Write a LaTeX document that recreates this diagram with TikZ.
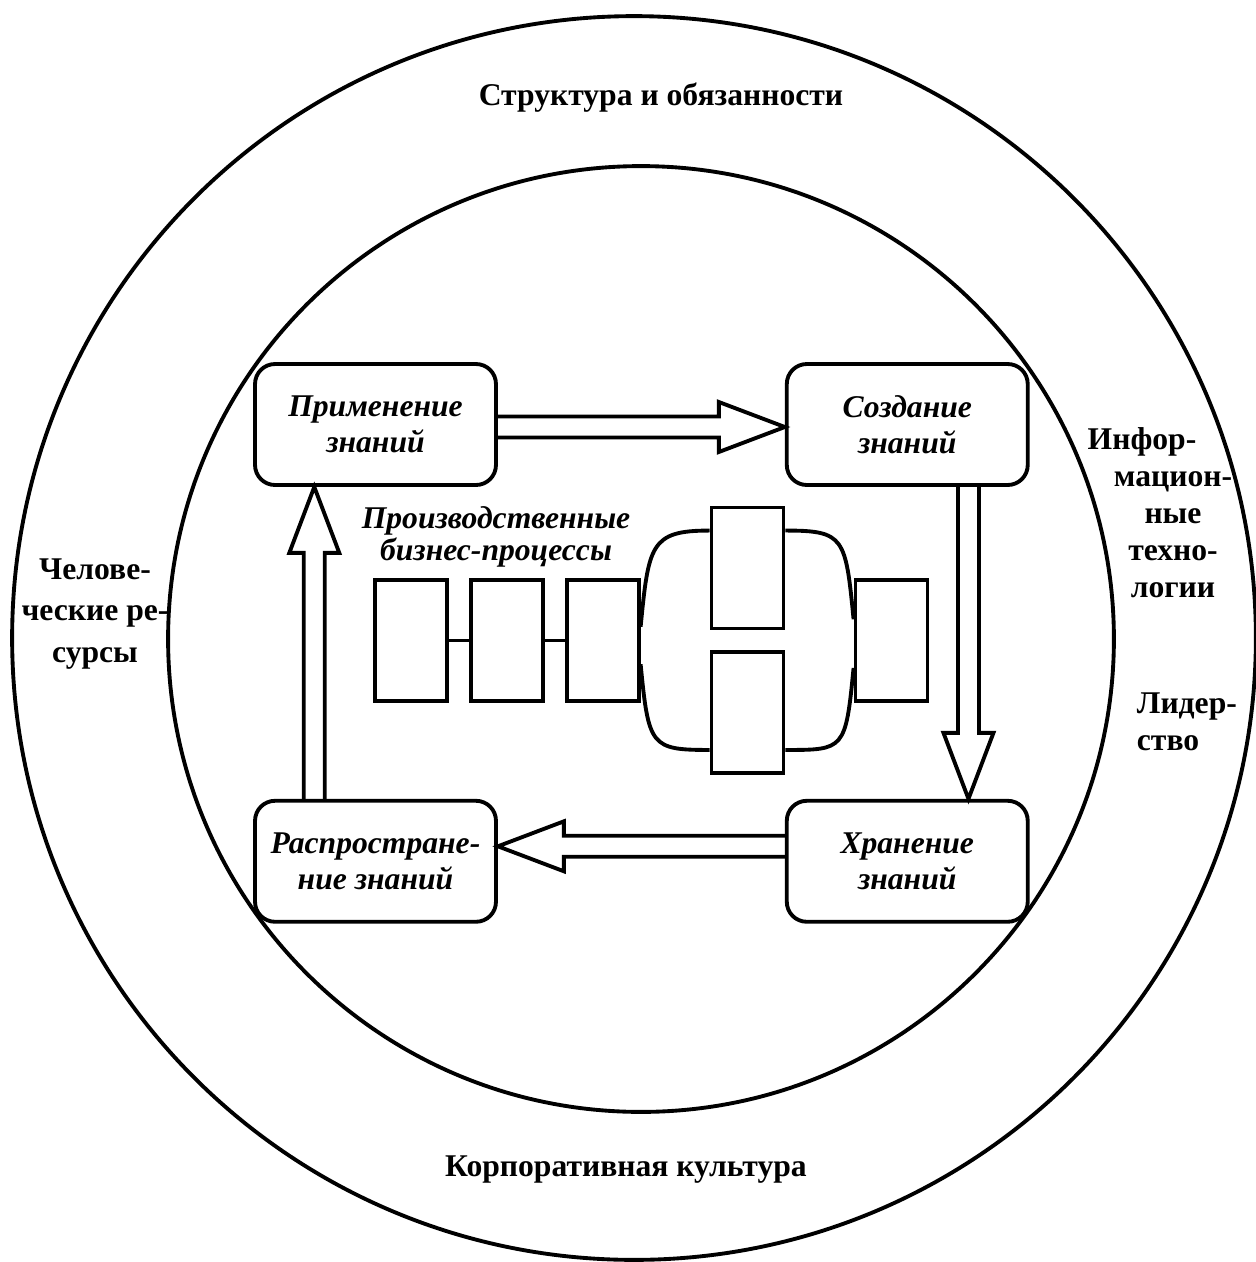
\documentclass[tikz,border=0pt]{standalone}
\usepackage{fontspec}
\setmainfont{Liberation Serif}
\usepackage{tikz}
\usetikzlibrary{calc,positioning}

\begin{document}
\begin{tikzpicture}[x=0.02cm,y=-0.02cm,line width=2.2pt]

\tikzset{kbox/.style={draw, rounded corners=0.4cm, minimum width=4.82cm, minimum height=2.42cm, align=center, inner sep=0pt, font=\bfseries\itshape\fontsize{18}{20.5}\selectfont},
pbox/.style={draw, minimum width=1.44cm, minimum height=2.42cm, inner sep=0pt},
%labels in the rings
lbl/.style={align=center, inner sep=0pt, font=\bfseries\fontsize{18}{21}\selectfont}}

\useasboundingbox (0,0) rectangle (1256,1262);

\draw (634,638) circle (12.44cm);
\draw (641,639) circle (9.46cm);

\node[lbl] (struct) at (661,98) {Структура и обязанности};
\node[lbl] (korp) at (626,1170) {Корпоративная культура};
\node[lbl, font=\bfseries\fontsize{18}{23.5}\selectfont] (chelov) at (95,614) {Челове-\\ческие ре-\\сурсы};
\node[lbl] (inform) at (1142,442) {Инфор-};
\node[lbl] (tehn) at (1173,535) {мацион-\\ные\\техно-\\логии};
\node[lbl, align=left, anchor=west] (lider) at (1135,722) {Лидер-\\ство};

%the four stages
\node[kbox] (primen) at (375.5,424.5) {Применение\\знаний};
\node[kbox, right=5.74cm of primen] (sozdan) {Создание\\знаний};
\node[kbox, below=6.24cm of sozdan] (hranen) {Хранение\\знаний};
\node[kbox, below=6.24cm of primen] (raspr) {Распростране-\\ние знаний};

\coordinate (a1s) at ($(primen.north east)!0.52!(primen.south east)$);
\coordinate (a1t) at ($(sozdan.north west)!0.52!(sozdan.south west)$);
\coordinate (a2s) at ($(sozdan.south west)!0.75!(sozdan.south east)$);
\coordinate (a2t) at ($(hranen.north west)!0.75!(hranen.north east)$);
\coordinate (a3s) at ($(hranen.north west)!0.38!(hranen.south west)$);
\coordinate (a3t) at ($(raspr.north east)!0.38!(raspr.south east)$);
\coordinate (a4s) at ($(raspr.north west)!0.25!(raspr.north east)$);
\coordinate (a4t) at ($(primen.south west)!0.25!(primen.south east)$);

%now the hollow arrows
\tikzstyle{blockArrow} = [line join=miter]

\foreach \s/\t in {a1s/a1t, a2s/a2t, a3s/a3t, a4s/a4t}{
  \coordinate (hb) at ($(\t)!1.32cm!(\s)$);
  \draw[blockArrow] ($(\s)!0.21cm!90:(\t)$) -- ($(hb)!0.21cm!90:(\t)$) -- ($(hb)!0.5cm!90:(\t)$) -- (\t)
    -- ($(hb)!0.5cm!-90:(\t)$) -- ($(hb)!0.21cm!-90:(\t)$) -- ($(\s)!0.21cm!-90:(\t)$);
}

%business processes
\node[lbl, font=\bfseries\itshape\fontsize{18}{18}\selectfont] (proizv) at (496,537) {Производственные\\бизнес-процессы};

\node[pbox] (p1) at (411,640.5) {};
\node[pbox, right=0.4cm of p1] (p2) {};
\node[pbox, right=0.4cm of p2] (p3) {};
\node[pbox] (pup) at (747.5,568) {};
\node[pbox] (pdn) at (747.5,712.5) {};
\node[pbox] (p6) at (891.5,640.5) {};

\draw (p1) -- (p2);
\draw (p2) -- (p3);

\draw ($(p3.north east)!0.39!(p3.south east)$) .. controls +(8,-82) and +(-59,0) .. ($(pup.north west)!0.2!(pup.south west)$);
\draw ($(p3.north east)!0.69!(p3.south east)$) .. controls +(8,82) and +(-59,0) .. ($(pdn.north west)!0.8!(pdn.south west)$);
\draw ($(p6.north west)!0.33!(p6.south west)$) .. controls +(-8,-82) and +(59,0) .. ($(pup.north east)!0.2!(pup.south east)$);
\draw ($(p6.north west)!0.72!(p6.south west)$) .. controls +(-8,82) and +(59,0) .. ($(pdn.north east)!0.8!(pdn.south east)$);

\end{tikzpicture}
\end{document}
